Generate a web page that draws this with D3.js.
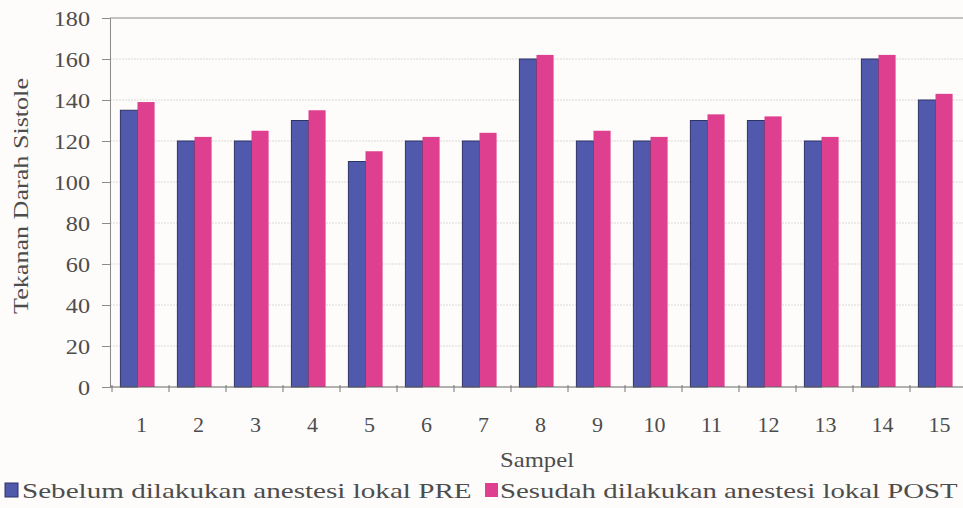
<!DOCTYPE html>
<html>
<head>
<meta charset="utf-8">
<script src="https://cdn.jsdelivr.net/npm/d3@7"></script>
<style>
  html, body { margin: 0; padding: 0; background: #fdfcfa; }
  svg text { font-family: "Liberation Serif", "Times New Roman", serif; fill: #4d4d4d; }
</style>
</head>
<body>
<svg id="chart" width="963" height="508"></svg>
<script>
// sample numbers 1..15
const samples = ['1','2','3','4','5','6','7','8','9','10','11','12','13','14','15'];
// systolic pressure before / after local anaesthesia
const pre  = [135, 120, 120, 130, 110, 120, 120, 160, 120, 120, 130, 130, 120, 160, 140];
const post = [139, 122, 125, 135, 115, 122, 124, 162, 125, 122, 133, 132, 122, 162, 143];
const yTicks = [0, 20, 40, 60, 80, 100, 120, 140, 160, 180];
const seriesNames = ['Sebelum dilakukan anestesi lokal PRE', 'Sesudah dilakukan anestesi lokal POST'];
const colors = ['#5059ab', '#de3f8f'];

const svg = d3.select('#chart');
const plotL = 110, plotR = 965, plotT = 18, plotB = 387;

const x = d3.scaleBand().domain(samples).range([plotL, plotR]).paddingInner(0.4).paddingOuter(0.2);
const xs = d3.scaleBand().domain([0, 1]).range([0, x.bandwidth()]);
const y = d3.scaleLinear().domain([0, 180]).range([plotB, plotT]);

// stretch a text horizontally so it fills a given width (the scan is wider than the font)
function fitText(sel, tx, ty, width, rot) {
  const natural = sel.node().getComputedTextLength();
  const s = width / natural;
  sel.attr('x', 0).attr('y', 0)
    .attr('transform', `translate(${tx},${ty})${rot ? ` rotate(${rot})` : ''} scale(${s},1)`);
}

// gridlines
svg.append('g')
  .selectAll('line')
  .data(yTicks.slice(1, -1))
  .join('line')
  .attr('x1', plotL).attr('x2', plotR)
  .attr('y1', d => y(d)).attr('y2', d => y(d))
  .attr('stroke', '#dadada').attr('stroke-width', 1)
  .attr('stroke-dasharray', '2,1');

// top border
svg.append('line')
  .attr('x1', plotL).attr('x2', plotR)
  .attr('y1', y(180)).attr('y2', y(180))
  .attr('stroke', '#8a8a8a').attr('stroke-width', 1.2);

// bars
const groups = svg.append('g')
  .selectAll('g')
  .data(samples)
  .join('g')
  .attr('transform', d => `translate(${x(d) - 1},0)`);

groups.selectAll('rect')
  .data((d, i) => [pre[i], post[i]])
  .join('rect')
  .attr('x', (d, j) => xs(j))
  .attr('width', xs.bandwidth())
  .attr('y', d => y(d))
  .attr('height', d => plotB - y(d))
  .attr('fill', (d, j) => colors[j])
  .attr('stroke', (d, j) => j === 0 ? '#2e3366' : 'none')
  .attr('stroke-width', 1);

// y axis
const yAxis = svg.append('g')
  .attr('transform', `translate(${plotL},0)`)
  .call(d3.axisLeft(y).tickValues(yTicks).tickSize(8).tickPadding(12));
yAxis.select('.domain').attr('stroke', '#8a8a8a');
yAxis.selectAll('.tick line').attr('stroke', '#8a8a8a');
yAxis.selectAll('.tick text')
  .attr('font-size', 22)
  .attr('dy', '0.34em')
  .style('fill', '#4d4d4d')
  .attr('transform', 'translate(-20,0) scale(1.1,1) translate(20,0)');

// x axis with ticks between categories
const xAxisG = svg.append('g').attr('transform', `translate(0,${plotB})`);
xAxisG.append('line')
  .attr('x1', plotL).attr('x2', plotR)
  .attr('stroke', '#666').attr('stroke-width', 1.2);
xAxisG.selectAll('line.sep')
  .data(samples)
  .join('line')
  .attr('class', 'sep')
  .attr('x1', d => x(d) - x.step() * x.paddingInner() / 2 + 2)
  .attr('x2', d => x(d) - x.step() * x.paddingInner() / 2 + 2)
  .attr('y1', -2).attr('y2', 5)
  .attr('stroke', '#777');
xAxisG.selectAll('text')
  .data(samples)
  .join('text')
  .attr('x', d => x(d) + x.bandwidth() / 2 + 3)
  .attr('y', 45)
  .attr('text-anchor', 'middle')
  .attr('font-size', 22)
  .text(d => d);

// axis titles
fitText(svg.append('text')
  .attr('text-anchor', 'middle')
  .attr('font-size', 21)
  .text('Tekanan Darah Sistole'), 28, 196, 236, -90);

fitText(svg.append('text')
  .attr('text-anchor', 'middle')
  .attr('font-size', 22)
  .text('Sampel'), 537, 467, 74);

// legend
const legend = [
  { x: 5, textX: 22, len: 450 },
  { x: 485, textX: 500, len: 458 }
];
legend.forEach((l, i) => {
  svg.append('rect')
    .attr('x', l.x).attr('y', 483)
    .attr('width', 13).attr('height', 14)
    .attr('fill', colors[i])
    .attr('stroke', i === 0 ? '#2e3366' : 'none');
  fitText(svg.append('text')
    .attr('font-size', 22)
    .text(seriesNames[i]), l.textX, 498, l.len);
});
</script>
</body>
</html>
